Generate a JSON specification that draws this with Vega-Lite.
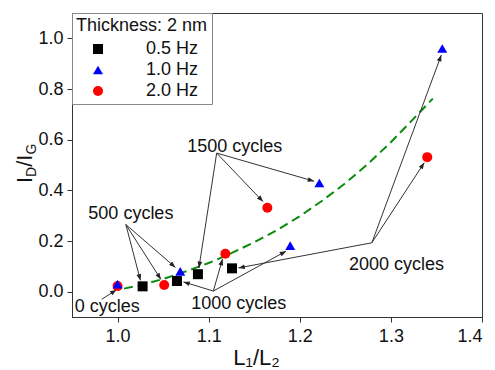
{
  "$schema": "https://vega.github.io/schema/vega-lite/v6.json",
  "width": 410,
  "height": 304,
  "autosize": {"type": "none"},
  "padding": {"left": 72, "top": 13, "right": 13, "bottom": 53},
  "background": "white",
  "config": {
    "font": "Liberation Sans",
    "view": {"stroke": "#333", "strokeWidth": 1},
    "axis": {
      "grid": false,
      "domainColor": "#333",
      "tickColor": "#333",
      "tickSize": 5,
      "labelColor": "#111",
      "labelFontSize": 18,
      "labelFont": "Liberation Sans",
      "titleFont": "Liberation Sans",
      "titleFontWeight": "normal",
      "titleColor": "#111"
    },
    "axisX": {
      "labelPadding": 5,
      "titleFontSize": 22,
      "titleX": 184, "titleY": 47, "titleAlign": "center", "titleBaseline": "alphabetic"
    },
    "axisY": {"labelPadding": 4},
    "legend": {
      "orient": "top-left",
      "offset": 0,
      "padding": 4,
      "strokeColor": "#888",
      "fillColor": "white",
      "titleFont": "Liberation Sans",
      "titleFontSize": 18,
      "titleFontWeight": "normal",
      "titleColor": "#111",
      "titlePadding": 5,
      "labelFont": "Liberation Sans",
      "labelFontSize": 18,
      "labelColor": "#111",
      "labelOffset": 39,
      "symbolOffset": 13,
      "rowPadding": 3,
      "symbolSize": 100,
      "symbolStrokeWidth": 0
    }
  },
  "datasets": {
    "pts": [
      {"x": 1.0275, "y": 0.021, "f": "0.5 Hz"},
      {"x": 1.0652, "y": 0.042, "f": "0.5 Hz"},
      {"x": 1.0882, "y": 0.069, "f": "0.5 Hz"},
      {"x": 1.1256, "y": 0.092, "f": "0.5 Hz"},
      {"x": 1.0, "y": 0.022, "f": "2.0 Hz"},
      {"x": 1.0512, "y": 0.026, "f": "2.0 Hz"},
      {"x": 1.1183, "y": 0.150, "f": "2.0 Hz"},
      {"x": 1.1644, "y": 0.331, "f": "2.0 Hz"},
      {"x": 1.3399, "y": 0.531, "f": "2.0 Hz"},
      {"x": 1.0, "y": 0.030, "f": "1.0 Hz"},
      {"x": 1.0688, "y": 0.080, "f": "1.0 Hz"},
      {"x": 1.1895, "y": 0.182, "f": "1.0 Hz"},
      {"x": 1.2215, "y": 0.429, "f": "1.0 Hz"},
      {"x": 1.3564, "y": 0.960, "f": "1.0 Hz"}
    ],
    "fit": [
      {"x": 1.007, "y": 0.012},
      {"x": 1.025, "y": 0.025},
      {"x": 1.05, "y": 0.05},
      {"x": 1.075, "y": 0.08},
      {"x": 1.1, "y": 0.113},
      {"x": 1.125, "y": 0.152},
      {"x": 1.15, "y": 0.195},
      {"x": 1.175, "y": 0.243},
      {"x": 1.2, "y": 0.298},
      {"x": 1.225, "y": 0.36},
      {"x": 1.25, "y": 0.428},
      {"x": 1.275, "y": 0.505},
      {"x": 1.3, "y": 0.59},
      {"x": 1.325, "y": 0.683},
      {"x": 1.346, "y": 0.762}
    ],
    "arrows": [
      {"x1": 0.9827, "y1": -0.030, "x2": 0.9987, "y2": 0.007},
      {"x1": 1.0091, "y1": 0.265, "x2": 1.0251, "y2": 0.0445},
      {"x1": 1.0091, "y1": 0.265, "x2": 1.0476, "y2": 0.0484},
      {"x1": 1.0091, "y1": 0.265, "x2": 1.0635, "y2": 0.0957},
      {"x1": 1.1051, "y1": 0.0024, "x2": 1.0723, "y2": 0.0386},
      {"x1": 1.1051, "y1": 0.0024, "x2": 1.1152, "y2": 0.129},
      {"x1": 1.1051, "y1": 0.0024, "x2": 1.185, "y2": 0.160},
      {"x1": 1.1088, "y1": 0.547, "x2": 1.0893, "y2": 0.0937},
      {"x1": 1.1088, "y1": 0.547, "x2": 1.1597, "y2": 0.3555},
      {"x1": 1.1088, "y1": 0.547, "x2": 1.2157, "y2": 0.436},
      {"x1": 1.2791, "y1": 0.193, "x2": 1.1327, "y2": 0.0937},
      {"x1": 1.2791, "y1": 0.193, "x2": 1.3366, "y2": 0.509},
      {"x1": 1.2791, "y1": 0.193, "x2": 1.3553, "y2": 0.934}
    ],
    "labels": [
      {"t": "0 cycles", "x": 0.9888, "y": -0.062},
      {"t": "500 cycles", "x": 1.0146, "y": 0.306},
      {"t": "1000 cycles", "x": 1.1331, "y": -0.048},
      {"t": "1500 cycles", "x": 1.1286, "y": 0.571},
      {"t": "2000 cycles", "x": 1.3062, "y": 0.1035}
    ],
    "ymain": [
      {"t": "I", "x": 0.906, "y": 0.4288},
      {"t": "/I", "x": 0.906, "y": 0.4928}
    ],
    "ysub": [
      {"t": "D", "x": 0.906, "y": 0.4529},
      {"t": "G", "x": 0.906, "y": 0.541}
    ]
  },
  "layer": [
    {
      "data": {"name": "fit"},
      "mark": {"type": "line", "color": "#0a8a0a", "strokeWidth": 2, "strokeDash": [9, 5]},
      "encoding": {
        "x": {"field": "x", "type": "quantitative", "scale": {"domain": [0.95, 1.4], "nice": false, "zero": false}, "axis": {"values": [1.0, 1.1, 1.2, 1.3, 1.4], "format": ".1f", "title": "L₁/L₂"}},
        "y": {"field": "y", "type": "quantitative", "scale": {"domain": [-0.1, 1.1], "nice": false, "zero": false}, "axis": {"values": [0, 0.2, 0.4, 0.6, 0.8, 1.0], "format": ".1f", "title": null}}
      }
    },
    {
      "data": {"name": "arrows"},
      "mark": {"type": "rule", "color": "#333", "strokeWidth": 1},
      "encoding": {
        "x": {"field": "x1", "type": "quantitative", "scale": {"domain": [0.95, 1.4], "nice": false, "zero": false}, "axis": {"values": [1.0, 1.1, 1.2, 1.3, 1.4], "format": ".1f", "title": "L₁/L₂"}},
        "y": {"field": "y1", "type": "quantitative", "scale": {"domain": [-0.1, 1.1], "nice": false, "zero": false}, "axis": {"values": [0, 0.2, 0.4, 0.6, 0.8, 1.0], "format": ".1f", "title": null}},
        "x2": {"field": "x2"},
        "y2": {"field": "y2"}
      }
    },
    {
      "data": {"name": "arrows"},
      "transform": [
        {"calculate": "atan2(-(datum.y2 - datum.y1) * 253.3, (datum.x2 - datum.x1) * 911.1) * 180 / PI + 90", "as": "ang"}
      ],
      "mark": {"type": "point", "shape": "M0,0L-0.38,1L0.38,1Z", "filled": true, "color": "#222", "size": 160, "opacity": 1},
      "encoding": {
        "x": {"field": "x2", "type": "quantitative", "scale": {"domain": [0.95, 1.4], "nice": false, "zero": false}, "axis": {"values": [1.0, 1.1, 1.2, 1.3, 1.4], "format": ".1f", "title": "L₁/L₂"}},
        "y": {"field": "y2", "type": "quantitative", "scale": {"domain": [-0.1, 1.1], "nice": false, "zero": false}, "axis": {"values": [0, 0.2, 0.4, 0.6, 0.8, 1.0], "format": ".1f", "title": null}},
        "angle": {"field": "ang", "type": "quantitative", "scale": null}
      }
    },
    {
      "data": {"name": "pts"},
      "mark": {"type": "point", "filled": true, "opacity": 1, "size": 100},
      "encoding": {
        "x": {"field": "x", "type": "quantitative", "scale": {"domain": [0.95, 1.4], "nice": false, "zero": false}, "axis": {"values": [1.0, 1.1, 1.2, 1.3, 1.4], "format": ".1f", "title": "L₁/L₂"}},
        "y": {"field": "y", "type": "quantitative", "scale": {"domain": [-0.1, 1.1], "nice": false, "zero": false}, "axis": {"values": [0, 0.2, 0.4, 0.6, 0.8, 1.0], "format": ".1f", "title": null}},
        "color": {
          "field": "f", "type": "nominal",
          "scale": {"domain": ["0.5 Hz", "1.0 Hz", "2.0 Hz"], "range": ["#000000", "#0000ff", "#ff0000"]},
          "legend": {"title": "Thickness: 2 nm"}
        },
        "shape": {
          "field": "f", "type": "nominal",
          "scale": {"domain": ["0.5 Hz", "1.0 Hz", "2.0 Hz"], "range": ["square", "triangle-up", "circle"]},
          "legend": {"title": "Thickness: 2 nm"}
        }
      }
    },
    {
      "data": {"name": "labels"},
      "mark": {"type": "text", "fontSize": 18, "font": "Liberation Sans", "color": "#111", "align": "center", "baseline": "middle"},
      "encoding": {
        "x": {"field": "x", "type": "quantitative", "scale": {"domain": [0.95, 1.4], "nice": false, "zero": false}, "axis": {"values": [1.0, 1.1, 1.2, 1.3, 1.4], "format": ".1f", "title": "L₁/L₂"}},
        "y": {"field": "y", "type": "quantitative", "scale": {"domain": [-0.1, 1.1], "nice": false, "zero": false}, "axis": {"values": [0, 0.2, 0.4, 0.6, 0.8, 1.0], "format": ".1f", "title": null}},
        "text": {"field": "t"}
      }
    },
    {
      "data": {"name": "ymain"},
      "mark": {"type": "text", "fontSize": 22, "font": "Liberation Sans", "color": "#111", "align": "left", "baseline": "alphabetic", "angle": 270},
      "encoding": {
        "x": {"field": "x", "type": "quantitative", "scale": {"domain": [0.95, 1.4], "nice": false, "zero": false}, "axis": {"values": [1.0, 1.1, 1.2, 1.3, 1.4], "format": ".1f", "title": "L₁/L₂"}},
        "y": {"field": "y", "type": "quantitative", "scale": {"domain": [-0.1, 1.1], "nice": false, "zero": false}, "axis": {"values": [0, 0.2, 0.4, 0.6, 0.8, 1.0], "format": ".1f", "title": null}},
        "text": {"field": "t"}
      }
    },
    {
      "data": {"name": "ysub"},
      "mark": {"type": "text", "fontSize": 14, "font": "Liberation Sans", "color": "#111", "align": "left", "baseline": "alphabetic", "angle": 270, "dy": 4},
      "encoding": {
        "x": {"field": "x", "type": "quantitative", "scale": {"domain": [0.95, 1.4], "nice": false, "zero": false}, "axis": {"values": [1.0, 1.1, 1.2, 1.3, 1.4], "format": ".1f", "title": "L₁/L₂"}},
        "y": {"field": "y", "type": "quantitative", "scale": {"domain": [-0.1, 1.1], "nice": false, "zero": false}, "axis": {"values": [0, 0.2, 0.4, 0.6, 0.8, 1.0], "format": ".1f", "title": null}},
        "text": {"field": "t"}
      }
    }
  ]
}
